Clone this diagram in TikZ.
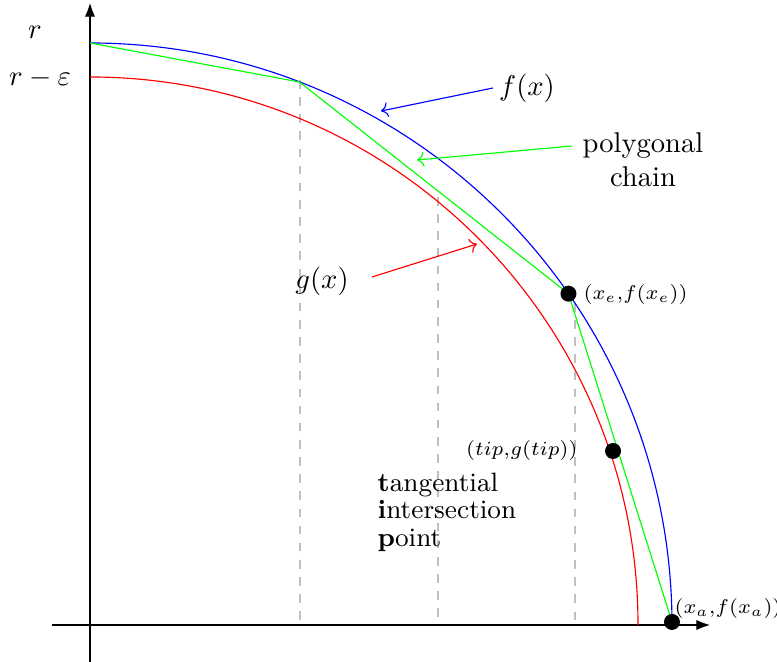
\documentclass[tikz,border=0pt]{standalone}
\usepackage{amsmath,amssymb}
\usetikzlibrary{arrows.meta}

\tikzset{
  dot/.style={circle, fill=black, inner sep=0pt, minimum size=5.6pt},
  guide/.style={gray!50, dashed},
  small/.style={font=\fontsize{7.5pt}{9pt}\selectfont, inner sep=0pt}
}

\begin{document}
\begin{tikzpicture}[x=35pt,y=35pt]
            \useasboundingbox (-0.90,-0.37) rectangle (6.87,6.25);
            % axes
            \draw[-Latex] (-0.38,0) -- (6.2,0);
            \draw[-Latex] (0,-0.37) -- (0,6.22);
            \node (r) at (-0.55,5.93) {$r$};
            \node (reps) at (-0.50,5.47) {$r-\varepsilon$};
            % dashed guides
            \draw[guide] (2.10,5.45) -- (2.10,0);
            \draw[guide] (3.48,4.28) -- (3.48,0);
            \draw[guide] (4.85,3.22) -- (4.85,0);
            % f and g
            \draw[blue] (5.82,0) arc (0:90:5.82);
            \draw[red] (5.48,0) arc (0:90:5.48);
            % polygonal chain
            \coordinate (p0) at (90:5.82);
            \coordinate (p1) at (68.9:5.82);
            \coordinate (p2) at (34.7:5.82);
            \coordinate (p3) at (0.3:5.82);
            \draw[green] (p0) -- (p1) -- (p2) -- (p3);
            % points
            \node[dot] (xe) at (p2) {};
            \node[dot] (tip) at (5.23,1.74) {};
            \node[dot] (xa) at (p3) {};
            \node[small, anchor=west] at (4.93,3.30) {$(x_e{,}f(x_e))$};
            \node[small, anchor=east] at (4.88,1.74) {$(tip{,}g(tip))$};
            \node[small, anchor=west, font=\fontsize{6.8pt}{8pt}\selectfont]
              at (5.84,0.16) {$(x_a{,}f(x_a))$};
            % labels with pointers
            \node (flabel) at (4.37,5.37) {$f(x)$};
            \coordinate (fstart) at (4.03,5.37);
            \coordinate (fend) at (2.91,5.14);
            \draw[->, blue] (fstart) -- (fend);
            \node[align=center] (chain) at (5.53,4.65) {polygonal\\chain};
            \coordinate (cstart) at (4.82,4.79);
            \coordinate (cend) at (3.27,4.65);
            \draw[->, green] (cstart) -- (cend);
            \node (glabel) at (2.32,3.44) {$g(x)$};
            \coordinate (gstart) at (2.82,3.48);
            \coordinate (gend) at (3.87,3.81);
            \draw[->, red] (gstart) -- (gend);
            \node[anchor=west, align=left, inner sep=0pt,
                  font=\fontsize{9.3pt}{9.6pt}\selectfont] (tipnote) at (2.87,1.13)
              {\textbf{t}angential\\\textbf{i}ntersection\\\textbf{p}oint};
        \end{tikzpicture}
\end{document}
